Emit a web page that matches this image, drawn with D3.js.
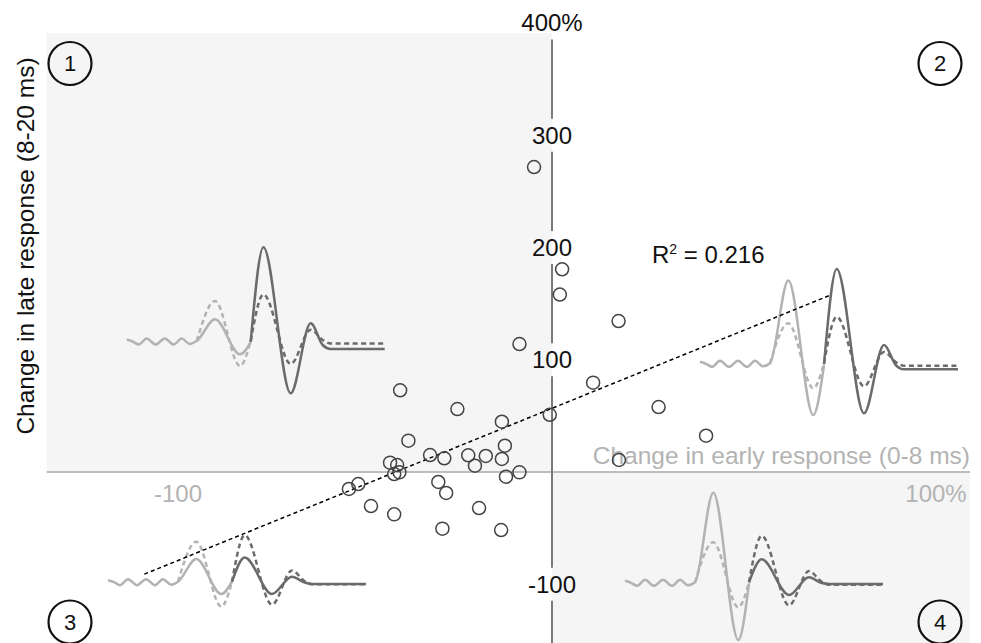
<!DOCTYPE html>
<html>
<head>
<meta charset="utf-8">
<script src="https://cdn.jsdelivr.net/npm/d3@7"></script>
<style>
  body { margin: 0; background: #fff; }
  svg { display: block; font-family: "Liberation Sans", Arial, Helvetica, sans-serif; }
</style>
</head>
<body>
<div id="chart"></div>
<script>
// scatter: % change per cell, early (0-8 ms) vs late (8-20 ms) response
const earlyChange = [-4.8, 2.7, 2.1, 17.8, -8.7, -40.6, -25.3, 11.0, 28.5, -0.6, -13.4, -38.4,
  -12.6, -32.6, -28.8, -22.4, -17.7, -13.4, -20.6, -43.3, -41.4, -42.2, -40.8, -8.7,
  -12.3, 17.9, 41.2, -51.8, -54.3, -30.4, -28.3, -48.4, -42.2, -19.5, -29.3, -13.6];
const lateChange = [271.7, 180.6, 158.1, 134.5, 114.0, 72.8, 56.1, 79.6, 57.9, 51.0, 44.8, 27.9,
  23.4, 15.1, 12.2, 14.9, 14.3, 11.6, 5.6, 8.3, 6.2, -1.8, -0.3, -0.3,
  -4.2, 10.7, 32.3, -10.7, -15.1, -8.9, -18.7, -30.3, -37.7, -32.1, -50.5, -51.7];

const yTicks = [400, 300, 200, 100, -100];
const xTicks = [-100, 100];

// regression line end points
const fitX = [-109, 74];
const fitY = [-91, 157];
const r2Value = '0.216';

const quadrantLabels = ['1', '2', '3', '4'];

// example waveforms (time in arbitrary units, amplitude in arbitrary units)
const rippleT = [0, 0.6, 1.2, 2.0, 2.9, 3.8, 4.7, 5.5, 6.3, 7.0];
const rippleAmp = [0.15, -0.05, -0.35, 0.25, -0.35, 0.25, -0.35, 0.25, -0.3, 0];
const earlyT = [7.0, 8.83, 11.33, 12.4];
const lateT = [12.4, 13.67, 16.4, 18.4, 19.6, 20.4, 25.8];
const earlyPre = [0, 4.0, -2.5, 0];
const latePre = [0, 4.65, -2.3, 1.13, 0.1, -0.25, -0.25];
// one row per quadrant 1..4
const earlyPost = [
  [0, 2.17, -1.33, -0.1],
  [0, 8.27, -5.17, -0.2],
  [0, 2.27, -1.23, 0],
  [0, 8.96, -5.77, -0.1]
];
const latePost = [
  [-0.1, 9.37, -5.23, 1.77, -0.4, -0.8, -0.8],
  [-0.1, 9.43, -5.0, 1.83, -0.2, -0.6, -0.6],
  [0, 2.43, -1.23, 0.5, -0.05, -0.23, -0.23],
  [0, 2.3, -1.27, 0.5, -0.05, -0.17, -0.17]
];

const width = 981, height = 643;
const lightGray = '#b3b3b3', darkGray = '#6b6b6b', shade = '#f5f5f5';

const svg = d3.select('#chart').append('svg')
  .attr('width', width)
  .attr('height', height);

const x = d3.scaleLinear().domain([0, 100]).range([552, 926]);
const y = d3.scaleLinear().domain([0, 100]).range([472, 359.75]);

// shaded quadrants 1 and 4
svg.append('rect')
  .attr('x', 46.7).attr('y', 33.3)
  .attr('width', x(0) - 46.7).attr('height', y(0) - 33.3)
  .attr('fill', shade);
svg.append('rect')
  .attr('x', x(0)).attr('y', y(0))
  .attr('width', 970 - x(0)).attr('height', height - y(0))
  .attr('fill', shade);

// horizontal axis
svg.append('line')
  .attr('x1', 46.7).attr('x2', 970)
  .attr('y1', y(0)).attr('y2', y(0))
  .attr('stroke', '#bdbdbd').attr('stroke-width', 2);

// vertical axis, broken around the tick labels
const gap = 16.5;
const stops = yTicks.map(t => y(t)).concat([height + gap]);
for (let i = 0; i < stops.length - 1; i++) {
  svg.append('line')
    .attr('x1', x(0)).attr('x2', x(0))
    .attr('y1', stops[i] + gap).attr('y2', stops[i + 1] - gap)
    .attr('stroke', '#7a7a7a').attr('stroke-width', 2);
}

svg.append('g').selectAll('text')
  .data(yTicks)
  .join('text')
  .attr('x', x(0))
  .attr('y', d => y(d))
  .attr('dy', '0.35em')
  .attr('text-anchor', 'middle')
  .attr('font-size', 24)
  .attr('fill', '#111')
  .text(d => d === 400 ? d + '%' : d);

svg.append('g').selectAll('text')
  .data(xTicks)
  .join('text')
  .attr('x', d => x(d))
  .attr('dx', d => d > 0 ? 10 : 0)
  .attr('y', 502)
  .attr('text-anchor', 'middle')
  .attr('font-size', 24)
  .attr('fill', lightGray)
  .text(d => d > 0 ? d + '%' : d);

// axis titles
svg.append('text')
  .attr('text-anchor', 'end')
  .attr('x', 970).attr('y', 464)
  .attr('font-size', 24.5)
  .attr('fill', lightGray)
  .text('Change in early response (0-8 ms)');

svg.append('text')
  .attr('text-anchor', 'middle')
  .attr('transform', 'translate(33.5,246) rotate(-90)')
  .attr('font-size', 24.5)
  .attr('fill', '#111')
  .text('Change in late response (8-20 ms)');

// waveform insets
const insetPos = [[126.7, 341], [700, 363.3], [108, 581.7], [625, 582.3]];
const lineFor = (tx, ty) => d3.line()
  .x(d => tx(d[0]))
  .y(d => ty(d[1]))
  .curve(d3.curveMonotoneX);

insetPos.forEach((pos, q) => {
  const tx = d3.scaleLinear().domain([0, 25.8]).range([pos[0], pos[0] + 258]);
  const ty = d3.scaleLinear().domain([0, 10]).range([pos[1], pos[1] - 100]);
  const line = lineFor(tx, ty);
  const g = svg.append('g').attr('fill', 'none').attr('stroke-width', 2.5);

  const ripple = d3.zip(rippleT, rippleAmp);
  g.append('path')
    .attr('stroke', lightGray)
    .attr('d', line(ripple.concat(d3.zip(earlyT, earlyPost[q]).slice(1))));
  g.append('path')
    .attr('stroke', lightGray)
    .attr('stroke-dasharray', '5,3.5')
    .attr('d', line(d3.zip(earlyT, earlyPre)));
  g.append('path')
    .attr('stroke', darkGray)
    .attr('d', line(d3.zip(lateT, latePost[q])));
  g.append('path')
    .attr('stroke', darkGray)
    .attr('stroke-dasharray', '5,3.5')
    .attr('d', line(d3.zip(lateT, latePre)));
});

// regression line
svg.append('line')
  .attr('x1', x(fitX[0])).attr('y1', y(fitY[0]))
  .attr('x2', x(fitX[1])).attr('y2', y(fitY[1]))
  .attr('stroke', '#000')
  .attr('stroke-width', 1.5)
  .attr('stroke-dasharray', '4,3');

// cells
svg.append('g').selectAll('circle')
  .data(d3.zip(earlyChange, lateChange))
  .join('circle')
  .attr('cx', d => x(d[0]))
  .attr('cy', d => y(d[1]))
  .attr('r', 6.5)
  .attr('fill', 'none')
  .attr('stroke', '#444')
  .attr('stroke-width', 1.5);

const r2 = svg.append('text')
  .attr('x', 652).attr('y', 263)
  .attr('font-size', 24)
  .attr('fill', '#111');
r2.append('tspan').text('R');
r2.append('tspan').attr('dy', -9).attr('font-size', 14).text('2');
r2.append('tspan').attr('dy', 9).text(' = ' + r2Value);

// quadrant markers
const markerPos = [[70, 63.5], [940, 63.5], [70, 622], [940, 622]];
const markers = svg.append('g').selectAll('g')
  .data(quadrantLabels)
  .join('g')
  .attr('transform', (d, i) => 'translate(' + markerPos[i][0] + ',' + markerPos[i][1] + ')');
markers.append('circle')
  .attr('r', 21.5)
  .attr('fill', 'none')
  .attr('stroke', '#111')
  .attr('stroke-width', 2.2);
markers.append('text')
  .attr('text-anchor', 'middle')
  .attr('dy', '0.36em')
  .attr('font-size', 22)
  .attr('fill', '#111')
  .text(d => d);
</script>
</body>
</html>
